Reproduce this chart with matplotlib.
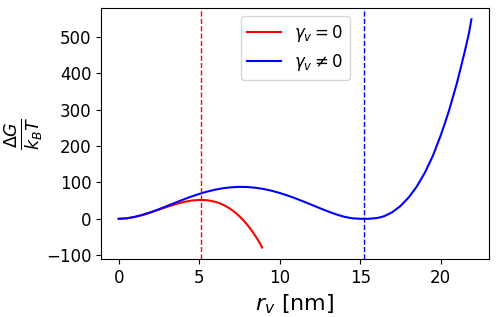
import numpy as np
import matplotlib
matplotlib.use("Agg")
import matplotlib.pyplot as plt

# radius values [nm] and free energy (in k_B T)
r_red = [0, 0.5, 1, 1.5, 2, 2.5, 3, 3.5, 4, 4.5, 5, 5.5, 6, 6.25, 6.5, 6.75, 7,
         7.25, 7.5, 7.75, 8, 8.25, 8.5, 8.75, 8.9]
g_red = [0, 1.4, 5.2, 10.9, 17.7, 25.3, 32.8, 39.9, 45.8, 50.1, 52.0, 51.1, 46.7,
         43.0, 38.2, 32.3, 25.1, 16.6, 6.8, -4.5, -17.4, -31.9, -48.0, -65.8, -79.0]

r_blue = [0, 0.5, 1, 1.5, 2, 2.5, 3, 3.5, 4, 4.5, 5, 5.5, 6, 6.5, 7, 7.5, 8, 8.5,
          9, 9.5, 10, 10.5, 11, 11.5, 12, 12.5, 13, 13.5, 14, 14.5, 15, 15.3, 15.5,
          16, 16.25, 16.5, 16.75, 17, 17.25, 17.5, 17.75, 18, 18.25, 18.5, 18.75,
          19, 19.25, 19.5, 19.75, 20, 20.25, 20.5, 20.75, 21, 21.25, 21.5, 21.75,
          21.9]
g_blue = [0, 1.4, 5.3, 11.1, 18.3, 26.5, 35.2, 44.1, 52.8, 61.0, 68.4, 74.9, 80.2,
          84.2, 86.7, 87.8, 87.3, 85.3, 81.9, 77.1, 71.0, 63.8, 55.8, 47.1, 38.1,
          29.0, 20.3, 12.3, 5.6, 1.4, 0.1, 0.0, 0.1, 2.0, 4.2, 7.5, 13.0, 18.5,
          27.0, 35.4, 47.0, 58.5, 73.0, 88.4, 107.0, 126.0, 149.0, 172.3, 201.0,
          230.0, 262.0, 296.0, 334.0, 373.0, 417.0, 462.0, 510.0, 548.0]

r_crit_red = 5.1
r_crit_blue = 15.25

fig, ax = plt.subplots(figsize=(4.98, 3.17), dpi=100)
ax.plot(r_red, g_red, color="red", label=r"$\gamma_v = 0$")
ax.plot(r_blue, g_blue, color="blue", label=r"$\gamma_v \neq 0$")
ax.axvline(r_crit_red, color="red", linestyle="--", linewidth=1)
ax.axvline(r_crit_blue, color="blue", linestyle="--", linewidth=1)

ax.set_xlabel(r"$r_v$ [nm]", fontsize=16)
ax.set_ylabel(r"$\frac{\Delta G}{k_B T}$", fontsize=18)
ax.yaxis.set_label_coords(-0.145, 0.5)
ax.tick_params(labelsize=12)
ax.set_xticks([0, 5, 10, 15, 20])
ax.legend(fontsize=12, loc="upper center")

fig.subplots_adjust(left=0.203, right=0.982, top=0.975, bottom=0.183)
fig.savefig("out.png", dpi=100)
